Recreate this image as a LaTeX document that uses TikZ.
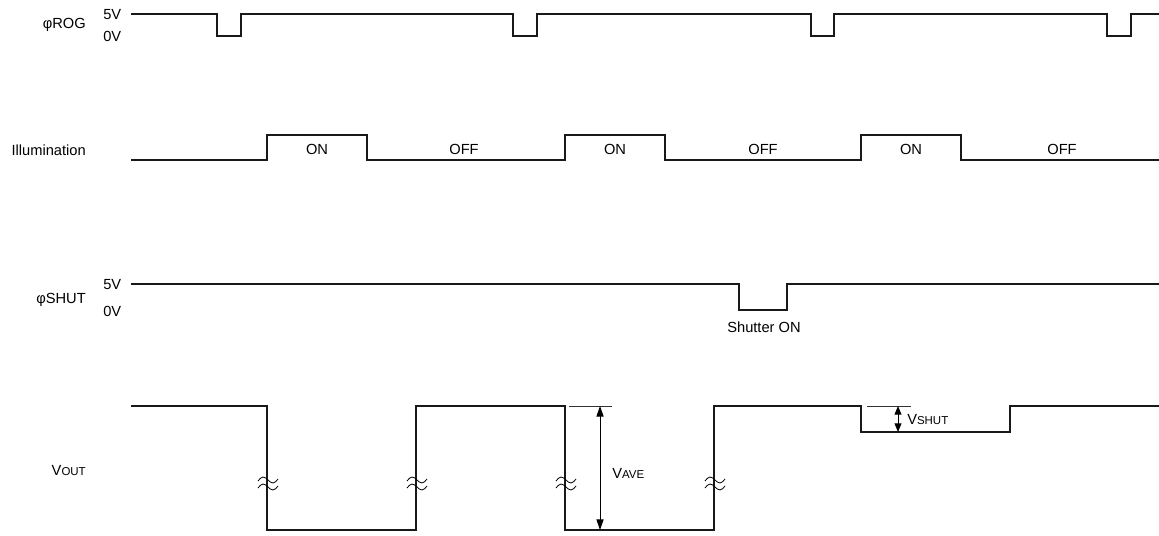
\documentclass[tikz,border=0pt]{standalone}
\usepackage{fontspec}
\setmainfont{Liberation Sans}
\usetikzlibrary{arrows.meta}
\newcommand\brkmark[2]{%
  \draw[brk] (#1-10,#2-3) sin (#1-5,#2-7) cos (#1,#2-4) sin (#1+5,#2-1) cos (#1+10,#2-5);
  \draw[brk] (#1-10,#2+4) sin (#1-5,#2) cos (#1,#2+3) sin (#1+5,#2+6) cos (#1+10,#2+2);}
\newcommand\subcap[1]{{\fontsize{8.6}{10}\selectfont #1}}
\begin{document}
\begin{tikzpicture}[x=0.75pt,y=-0.75pt,
  sig/.style={line width=1.1pt, line join=miter, draw=black!90},
  thinline/.style={line width=0.6pt, draw=black!80},
  brk/.style={line width=0.6pt, draw=black},
  dim/.style={line width=0.7pt, {Triangle[length=8pt,width=5.4pt]}-{Triangle[length=8pt,width=5.4pt]}},
  dimsmall/.style={line width=0.7pt, {Triangle[length=6.5pt,width=5.2pt]}-{Triangle[length=6.5pt,width=5.2pt]}},
  lbl/.style={font=\fontsize{11}{13}\selectfont, inner sep=0pt},
  signame/.style={lbl, anchor=east},
  lvl/.style={lbl, anchor=west},
  ]
\useasboundingbox (0,0) rectangle (1159,535);

% ---- phi ROG ----
\node[signame] (rog) at (86,25) {φROG};
\node[lvl] (rog5) at (103,15) {5V};
\node[lvl] (rog0) at (103,36) {0V};
\draw[sig] (131,14) -- (217,14) -- (217,36) -- (241,36) -- (241,14)
  -- (513,14) -- (513,36) -- (537,36) -- (537,14)
  -- (811,14) -- (811,36) -- (834,36) -- (834,14)
  -- (1107,14) -- (1107,36) -- (1131,36) -- (1131,14) -- (1159,14);

% ---- Illumination ----
\node[signame] (ill) at (86,150) {Illumination};
\draw[sig] (131,160) -- (267,160) -- (267,135) -- (367,135) -- (367,160)
  -- (565,160) -- (565,135) -- (665,135) -- (665,160)
  -- (861,160) -- (861,135) -- (961,135) -- (961,160) -- (1159,160);
\node[lbl] (on1) at (317,149) {ON};
\node[lbl] (off1) at (464,149) {OFF};
\node[lbl] (on2) at (615,149) {ON};
\node[lbl] (off2) at (763,149) {OFF};
\node[lbl] (on3) at (911,149) {ON};
\node[lbl] (off3) at (1062,149) {OFF};

% ---- phi SHUT ----
\node[signame] (shut) at (86,300) {φSHUT};
\node[lvl] (shut5) at (103,285) {5V};
\node[lvl] (shut0) at (103,311) {0V};
\draw[sig] (131,284) -- (739,284) -- (739,310) -- (787,310) -- (787,284) -- (1159,284);
\node[lbl] (shon) at (764,327) {Shutter ON};

% ---- VOUT ----
\node[signame] (vout) at (86,471) {V\subcap{OUT}};
\draw[sig] (131,406) -- (267,406) -- (267,530) -- (416,530) -- (416,406)
  -- (565,406) -- (565,530) -- (714,530) -- (714,406)
  -- (861,406) -- (861,432) -- (1010,432) -- (1010,406) -- (1159,406);
\brkmark{268}{484}
\brkmark{417}{484}
\brkmark{566}{484}
\brkmark{715}{484}

% VAVE dimension
\coordinate (aveT) at (600,406);
\coordinate (aveB) at (600,530);
\coordinate (aveL) at (569,406);
\coordinate (aveR) at (612,406);
\draw[thinline] (aveL) -- (aveR);
\draw[dim] (aveT) -- (aveB);
\node[lvl] (vave) at (612,473) {V\subcap{AVE}};

% VSHUT dimension
\coordinate (shT) at (898,406);
\coordinate (shB) at (898,432);
\coordinate (shL) at (867,406);
\coordinate (shR) at (911,406);
\draw[thinline] (shL) -- (shR);
\draw[dimsmall] (shT) -- (shB);
\node[lvl] (vshut) at (907,420) {V\subcap{SHUT}};
\end{tikzpicture}
\end{document}
